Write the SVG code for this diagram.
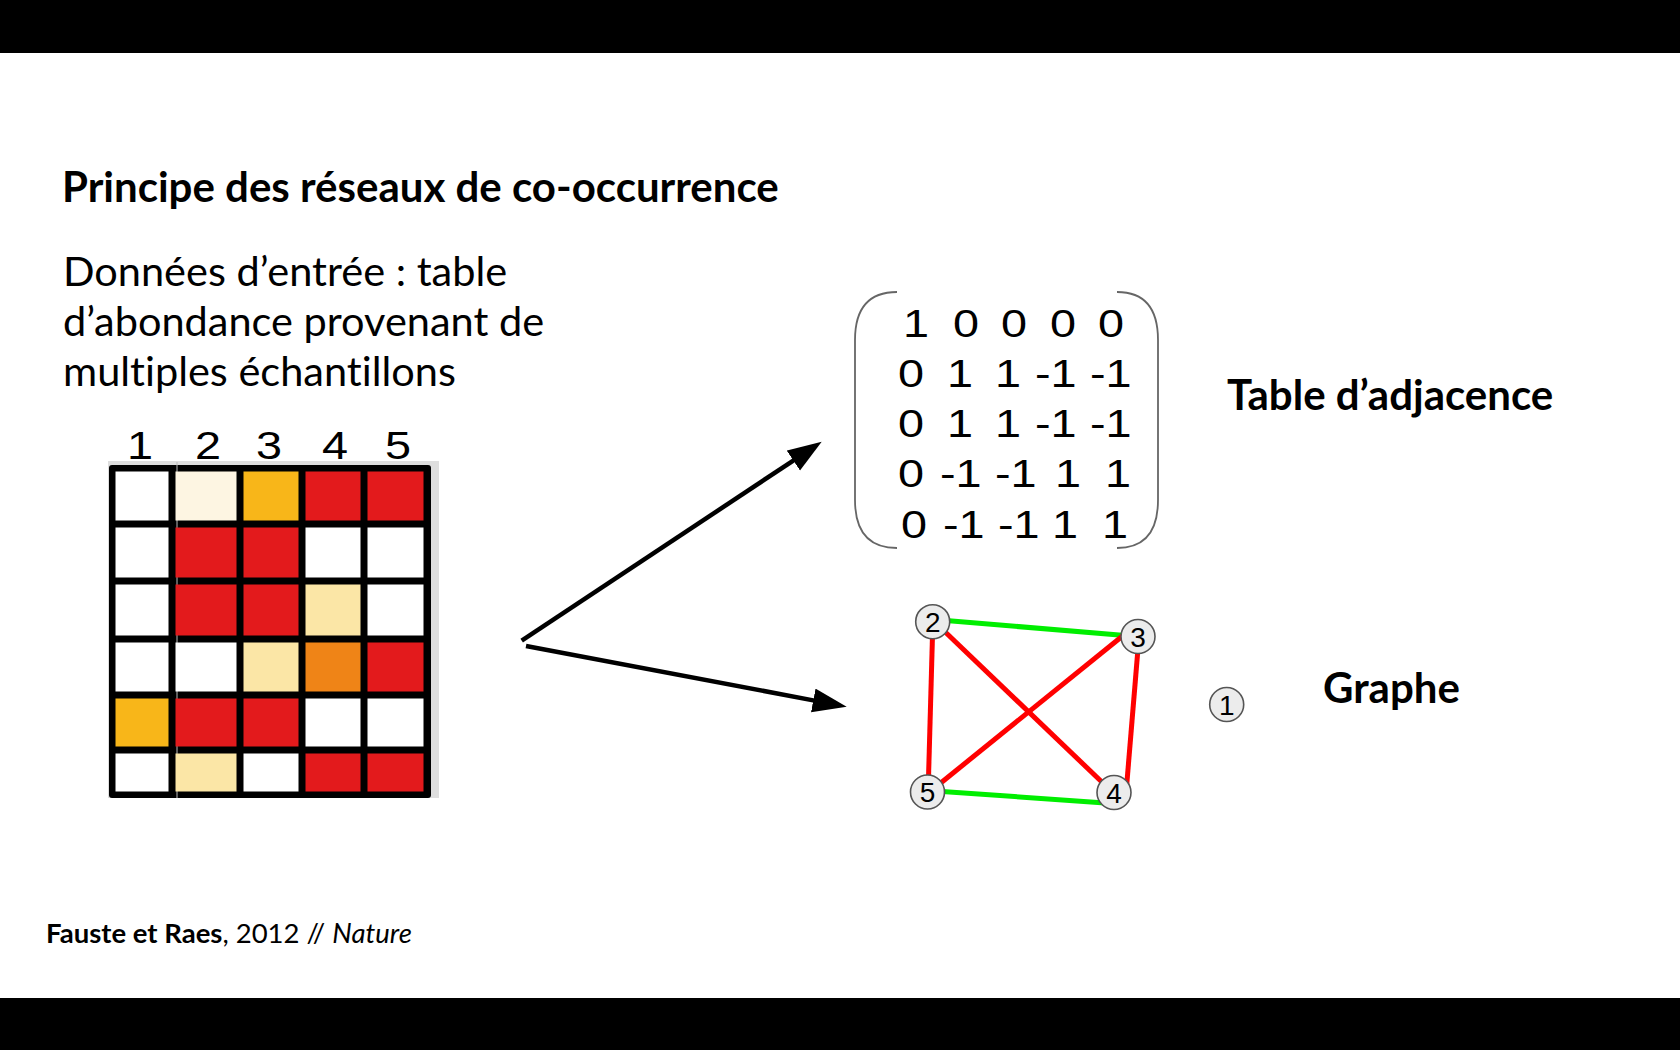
<svg xmlns="http://www.w3.org/2000/svg" width="1680" height="1050" viewBox="0 0 1680 1050">
  <defs>
    <style>
      .lato { font-family: Lato, "Open Sans", sans-serif; fill: #000; font-variant-ligatures: none; }
      .bold { font-weight: 700; }
      .title { font-size: 42px; }
      .body { font-size: 41.5px; }
      .label { font-size: 42px; }
      .cite { font-size: 27.5px; }
      .num { font-family: "Liberation Sans", Arial, sans-serif; fill: #000; font-size: 39px; }
      .nodec { fill: #ececec; stroke: #555; stroke-width: 1.6; }
      .nodet { font-family: "Liberation Sans", Arial, sans-serif; font-size: 28px; fill: #000; text-anchor: middle; }
      .pos { stroke: #00ee00; stroke-width: 5; }
      .neg { stroke: #ff0000; stroke-width: 5; }
      .arrow { stroke: #000; stroke-width: 4.5; fill: none; marker-end: url(#head); }
      .bracket { fill: none; stroke: #666; stroke-width: 1.8; }
    </style>
    <marker id="head" markerUnits="userSpaceOnUse" markerWidth="36" markerHeight="26" refX="4" refY="12" orient="auto">
      <path d="M0,0 L34,12 L0,24 z" fill="#000"/>
    </marker>
  </defs>

  <rect width="1680" height="1050" fill="#fff"/>
  <!-- letterbox bars -->
  <rect x="0" y="0" width="1680" height="53" fill="#000"/>
  <rect x="0" y="998" width="1680" height="52" fill="#000"/>

  <!-- headings -->
  <text class="lato bold title" x="62" y="202">Principe des réseaux de co-occurrence</text>
  <g id="intro">
    <text class="lato body" x="63" y="286">Données d’entrée : table</text>
    <text class="lato body" x="63" y="336">d’abondance provenant de</text>
    <text class="lato body" x="63" y="386">multiples échantillons</text>
  </g>

  <!-- abundance table -->
  <g id="abundance-table">
    <g class="num">
      <text transform="translate(127,459) scale(1.2,1)">1</text>
      <text transform="translate(195,459) scale(1.2,1)">2</text>
      <text transform="translate(256,459) scale(1.2,1)">3</text>
      <text transform="translate(322,459) scale(1.2,1)">4</text>
      <text transform="translate(385,459) scale(1.2,1)">5</text>
    </g>
    <rect x="108" y="461" width="331" height="337" fill="#dedede"/>
    <rect x="109" y="465" width="322" height="333" rx="3" fill="#000"/>
    <line x1="177" y1="462" x2="177" y2="798" stroke="#bbb" stroke-width="1"/>
    <!-- row 1 -->
    <rect x="115.5" y="471.5" width="53" height="49" fill="#fff"/>
    <rect x="175.5" y="471.5" width="61" height="49" fill="#fdf5e2"/>
    <rect x="243.5" y="471.5" width="55" height="49" fill="#f8b619"/>
    <rect x="305.5" y="471.5" width="55" height="49" fill="#e31a1c"/>
    <rect x="367.5" y="471.5" width="56" height="49" fill="#e31a1c"/>
    <!-- row 2 -->
    <rect x="115.5" y="527.5" width="53" height="50" fill="#fff"/>
    <rect x="175.5" y="527.5" width="61" height="50" fill="#e31a1c"/>
    <rect x="243.5" y="527.5" width="55" height="50" fill="#e31a1c"/>
    <rect x="305.5" y="527.5" width="55" height="50" fill="#fff"/>
    <rect x="367.5" y="527.5" width="56" height="50" fill="#fff"/>
    <!-- row 3 -->
    <rect x="115.5" y="584.5" width="53" height="51" fill="#fff"/>
    <rect x="175.5" y="584.5" width="61" height="51" fill="#e31a1c"/>
    <rect x="243.5" y="584.5" width="55" height="51" fill="#e31a1c"/>
    <rect x="305.5" y="584.5" width="55" height="51" fill="#fbe6a6"/>
    <rect x="367.5" y="584.5" width="56" height="51" fill="#fff"/>
    <!-- row 4 -->
    <rect x="115.5" y="642.5" width="53" height="49" fill="#fff"/>
    <rect x="175.5" y="642.5" width="61" height="49" fill="#fff"/>
    <rect x="243.5" y="642.5" width="55" height="49" fill="#fbe6a6"/>
    <rect x="305.5" y="642.5" width="55" height="49" fill="#ef8417"/>
    <rect x="367.5" y="642.5" width="56" height="49" fill="#e31a1c"/>
    <!-- row 5 -->
    <rect x="115.5" y="698.5" width="53" height="48" fill="#f8b619"/>
    <rect x="175.5" y="698.5" width="61" height="48" fill="#e31a1c"/>
    <rect x="243.5" y="698.5" width="55" height="48" fill="#e31a1c"/>
    <rect x="305.5" y="698.5" width="55" height="48" fill="#fff"/>
    <rect x="367.5" y="698.5" width="56" height="48" fill="#fff"/>
    <!-- row 6 -->
    <rect x="115.5" y="753.5" width="53" height="38" fill="#fff"/>
    <rect x="175.5" y="753.5" width="61" height="38" fill="#fbe6a6"/>
    <rect x="243.5" y="753.5" width="55" height="38" fill="#fff"/>
    <rect x="305.5" y="753.5" width="55" height="38" fill="#e31a1c"/>
    <rect x="367.5" y="753.5" width="56" height="38" fill="#e31a1c"/>
  </g>

  <!-- adjacency matrix -->
  <g id="adjacency-matrix">
    <path class="bracket" d="M897,292 Q855,292 855,340 L855,500 Q855,548 897,548"/>
    <path class="bracket" d="M1117,292 Q1158,292 1158,340 L1158,500 Q1158,548 1117,548"/>
    <g class="num">
      <text transform="translate(903,337) scale(1.2,1)">1</text>
      <text transform="translate(953,337) scale(1.2,1)">0</text>
      <text transform="translate(1001,337) scale(1.2,1)">0</text>
      <text transform="translate(1050,337) scale(1.2,1)">0</text>
      <text transform="translate(1098,337) scale(1.2,1)">0</text>

      <text transform="translate(898,387) scale(1.2,1)">0</text>
      <text transform="translate(947,387) scale(1.2,1)">1</text>
      <text transform="translate(995,387) scale(1.2,1)">1</text>
      <text transform="translate(1035,387) scale(1.2,1)">-1</text>
      <text transform="translate(1090,387) scale(1.2,1)">-1</text>

      <text transform="translate(898,437) scale(1.2,1)">0</text>
      <text transform="translate(947,437) scale(1.2,1)">1</text>
      <text transform="translate(995,437) scale(1.2,1)">1</text>
      <text transform="translate(1035,437) scale(1.2,1)">-1</text>
      <text transform="translate(1090,437) scale(1.2,1)">-1</text>

      <text transform="translate(898,487) scale(1.2,1)">0</text>
      <text transform="translate(940,487) scale(1.2,1)">-1</text>
      <text transform="translate(995,487) scale(1.2,1)">-1</text>
      <text transform="translate(1055,487) scale(1.2,1)">1</text>
      <text transform="translate(1105,487) scale(1.2,1)">1</text>

      <text transform="translate(901,538) scale(1.2,1)">0</text>
      <text transform="translate(943,538) scale(1.2,1)">-1</text>
      <text transform="translate(998,538) scale(1.2,1)">-1</text>
      <text transform="translate(1052,538) scale(1.2,1)">1</text>
      <text transform="translate(1102,538) scale(1.2,1)">1</text>
    </g>
  </g>

  <text class="lato bold label" x="1227" y="410">Table d’adjacence</text>
  <text class="lato bold label" x="1323" y="703">Graphe</text>

  <!-- arrows from the table -->
  <g id="connectors">
    <line class="arrow" x1="521.7" y1="640.7" x2="796.7" y2="458.3"/>
    <line class="arrow" x1="526" y1="646" x2="817.2" y2="701.1"/>

    <!-- graph edges -->
    <line class="pos" x1="940" y1="620" x2="1125" y2="635.5"/>
    <line class="pos" x1="935" y1="791" x2="1105" y2="803"/>
    <line class="neg" x1="932.7" y1="628" x2="928.3" y2="785"/>
    <line class="neg" x1="940" y1="627" x2="1105" y2="785"/>
    <line class="neg" x1="1125" y1="634" x2="937" y2="786"/>
    <line class="neg" x1="1138.3" y1="645" x2="1126.7" y2="785"/>
  </g>

  <!-- graph nodes -->
  <g id="node-2"><circle class="nodec" cx="932.7" cy="621.7" r="17"/><text class="nodet" x="932.7" y="631.7">2</text></g>
  <g id="node-3"><circle class="nodec" cx="1138" cy="636.5" r="17"/><text class="nodet" x="1138" y="646.5">3</text></g>
  <g id="node-5"><circle class="nodec" cx="927.5" cy="792" r="17"/><text class="nodet" x="927.5" y="802">5</text></g>
  <g id="node-4"><circle class="nodec" cx="1114" cy="792.5" r="17"/><text class="nodet" x="1114" y="802.5">4</text></g>
  <g id="node-1"><circle class="nodec" cx="1226.7" cy="704.5" r="17"/><text class="nodet" x="1226.7" y="714.5">1</text></g>

  <!-- reference -->
  <text class="lato cite" x="46" y="943"><tspan class="bold">Fauste et Raes</tspan>, 2012 // <tspan font-style="italic">Nature</tspan></text>
</svg>
